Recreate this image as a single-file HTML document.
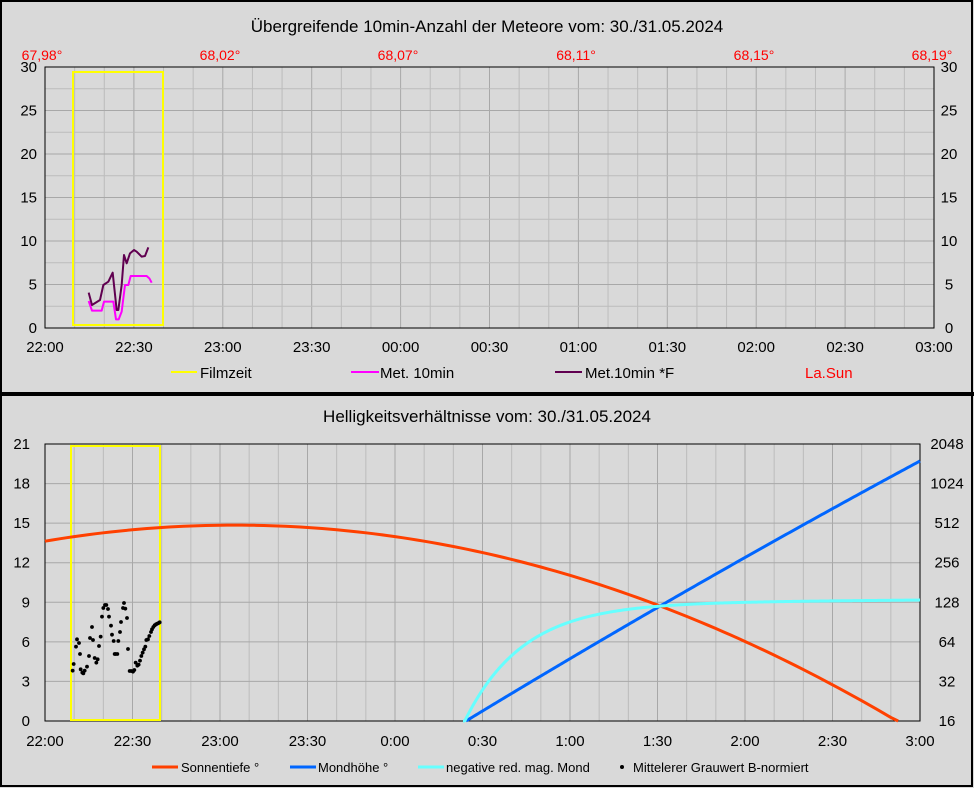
<!DOCTYPE html>
<html><head><meta charset="utf-8"><style>
body{margin:0;background:#fff}
svg{display:block;font-family:"Liberation Sans",Arial,sans-serif}
</style></head><body>
<svg width="974" height="788" viewBox="0 0 974 788" xmlns="http://www.w3.org/2000/svg">
<rect x="0" y="0" width="974" height="788" fill="#d9d9d9"/>
<rect x="1" y="1" width="971" height="785" fill="none" stroke="#000" stroke-width="2"/>
<rect x="0" y="392" width="974" height="4" fill="#000"/>
<text x="487" y="32" font-size="17" text-anchor="middle">Übergreifende 10min-Anzahl der Meteore vom: 30./31.05.2024</text>
<g fill="#ff0000" font-size="14" text-anchor="middle">
<text x="42" y="60">67,98°</text><text x="220" y="60">68,02°</text><text x="398" y="60">68,07°</text>
<text x="576" y="60">68,11°</text><text x="754" y="60">68,15°</text><text x="932" y="60">68,19°</text>
</g>
<script>
(function(){
var ns="http://www.w3.org/2000/svg",svg=document.currentScript.parentNode;
function el(t,a,p){var e=document.createElementNS(ns,t);for(var k in a)e.setAttribute(k,a[k]);(p||svg).appendChild(e);return e;}
function txt(x,y,s,anc,size,col){var e=el("text",{x:x,y:y,"font-size":size||15,"text-anchor":anc||"middle",fill:col||"#000"});e.textContent=s;return e;}
var L=45,R=934,T=67,B=328;
for(var i=0;i<=30;i++){var x=L+(R-L)*i/30;el("line",{x1:x,y1:T,x2:x,y2:B,stroke:i%3==0?"#a8a8a8":"#bcbcbc"});}
for(var j=0;j<=12;j++){var y=B-(B-T)*j/12;el("line",{x1:L,y1:y,x2:R,y2:y,stroke:j%2==0?"#a8a8a8":"#bcbcbc"});}
el("rect",{x:L,y:T,width:R-L,height:B-T,fill:"none",stroke:"#000"});
for(var j=0;j<=6;j++){var y=B-(B-T)*j/6;txt(37,y+5,String(j*5),"end");txt(949,y+5,String(j*5),"middle");}
var lab=["22:00","22:30","23:00","23:30","00:00","00:30","01:00","01:30","02:00","02:30","03:00"];
for(var i=0;i<=10;i++)txt(L+(R-L)*i/10,352,lab[i]);
el("rect",{x:73,y:72,width:90,height:253,fill:"none",stroke:"#ffff00","stroke-width":2});
function pl(pts,col,w){el("polyline",{points:pts.map(function(p){return (p[0]/3)+","+(p[1]/3)}).join(" "),fill:"none",stroke:col,"stroke-width":w||2,"stroke-linejoin":"round"});}
pl([[266,903],[276,932],[305,932],[312,905],[340,905],[348,958],[356,958],[365,935],[375,855],[385,855],[392,828],[440,828],[448,835],[455,848]],"#ff00ff");
pl([[266,878],[276,915],[300,900],[310,855],[325,845],[338,818],[350,930],[355,930],[365,855],[372,765],[380,790],[390,760],[402,750],[410,755],[425,770],[435,768],[445,742]],"#600050");
el("line",{x1:171,y1:372,x2:197,y2:372,stroke:"#ffff00","stroke-width":2});txt(200,378,"Filmzeit","start");
el("line",{x1:351,y1:372,x2:379,y2:372,stroke:"#ff00ff","stroke-width":2});txt(380,378,"Met. 10min","start");
el("line",{x1:555,y1:372,x2:582,y2:372,stroke:"#600050","stroke-width":2});txt(585,378,"Met.10min *F","start");
txt(805,378,"La.Sun","start",15,"#ff0000");

txt(487,422,"Helligkeitsverhältnisse vom: 30./31.05.2024","middle",17);
var L2=45,R2=920,T2=444,B2=721;
for(var i=0;i<=30;i++){var x=L2+(R2-L2)*i/30;el("line",{x1:x,y1:T2,x2:x,y2:B2,stroke:i%3==0?"#a8a8a8":"#bcbcbc"});}
for(var j=0;j<=7;j++){var y=B2-(B2-T2)*j/7;el("line",{x1:L2,y1:y,x2:R2,y2:y,stroke:"#a8a8a8"});}
el("rect",{x:L2,y:T2,width:R2-L2,height:B2-T2,fill:"none",stroke:"#000"});
var rl=["16","32","64","128","256","512","1024","2048"];
for(var j=0;j<=7;j++){var y=B2-(B2-T2)*j/7;txt(30,y+5,String(j*3),"end");txt(947,y+5,rl[j],"middle");}
var lab2=["22:00","22:30","23:00","23:30","0:00","0:30","1:00","1:30","2:00","2:30","3:00"];
for(var i=0;i<=10;i++)txt(L2+(R2-L2)*i/10,746,lab2[i]);
el("rect",{x:71,y:446,width:89,height:274,fill:"none",stroke:"#ffff00","stroke-width":2});
var sp=[];for(var t=0;t<=292.5;t+=2.5){var v=14.85-0.000288*(t-65)*(t-65);if(v<0)v=0;sp.push((L2+(R2-L2)*t/300)+","+(B2-v*(B2-T2)/21));}
el("polyline",{points:sp.join(" "),fill:"none",stroke:"#ff4000","stroke-width":3});
var bp=[];for(var x=466;x<=920;x+=2){var u=(x-466)/454;var y=721-260*(u*1.06-0.06*u*u);bp.push(x+","+y);}
el("polyline",{points:bp.join(" "),fill:"none",stroke:"#0066ff","stroke-width":3});
var cp=[];for(var x=463;x<=920;x+=1){var y=600+121*Math.exp(-(x-463)/58)+0.008*(920-x);cp.push(x+","+Math.min(721,y));}
el("polyline",{points:cp.join(" "),fill:"none",stroke:"#66ffff","stroke-width":3});
var d=[[128,272],[131,252],[138,200],[141,178],[147,189],[150,222],[152,268],[157,278],[160,280],[164,272],[171,260],[177,228],[180,174],[186,141],[189,180],[194,234],[199,248],[203,238],[207,198],[212,170],[216,110],[220,84],[225,75],[229,75],[234,87],[237,110],[243,137],[246,164],[251,183],[254,222],[257,222],[262,222],[265,183],[270,156],[273,126],[279,84],[282,69],[286,86],[291,114],[294,207],[299,273],[304,273],[309,275],[313,270],[317,248],[322,257],[326,254],[330,242],[334,228],[338,218],[342,208],[346,200],[349,180],[354,178],[358,168],[363,156],[366,148],[370,141],[374,136],[378,133],[382,131],[386,129],[389,127]];
d.forEach(function(p){el("circle",{cx:30+p[0]/3,cy:580+p[1]/3,r:1.9,fill:"#000"});});
el("line",{x1:152,y1:767,x2:178,y2:767,stroke:"#ff4000","stroke-width":3});txt(181,772,"Sonnentiefe °","start",13);
el("line",{x1:290,y1:767,x2:316,y2:767,stroke:"#0066ff","stroke-width":3});txt(318,772,"Mondhöhe °","start",13);
el("line",{x1:418,y1:767,x2:444,y2:767,stroke:"#66ffff","stroke-width":3});txt(446,772,"negative red. mag. Mond","start",13);
el("circle",{cx:622,cy:767,r:2,fill:"#000"});txt(633,772,"Mittelerer Grauwert B-normiert","start",13);
})();
</script>
</svg>
</body></html>
